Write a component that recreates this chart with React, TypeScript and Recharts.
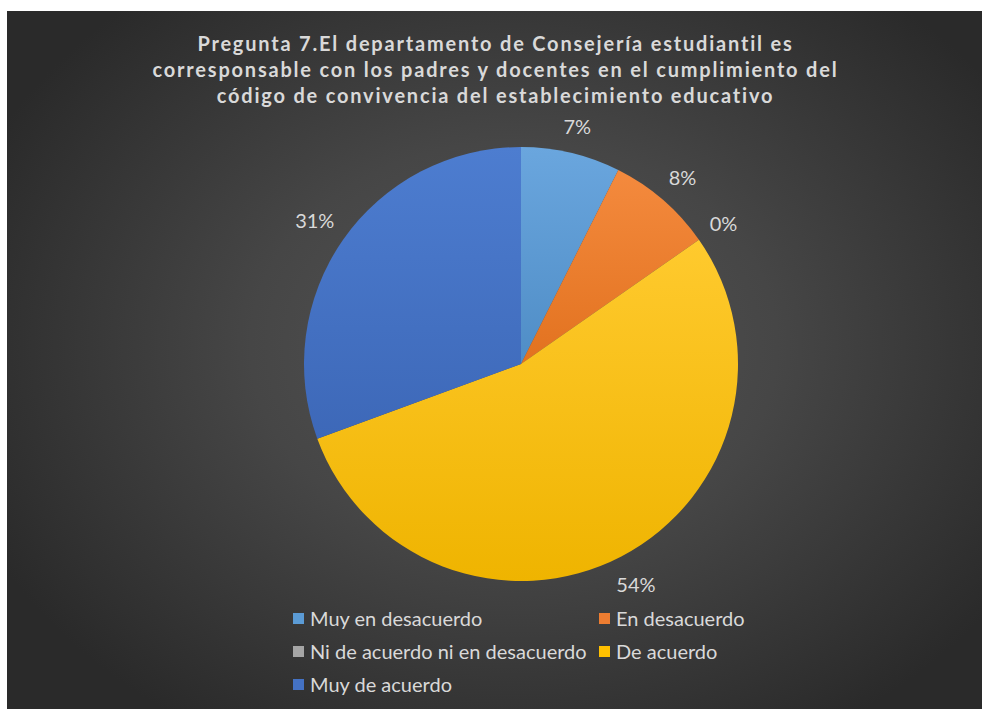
import React from "react";
import { PieChart, Pie, Cell, Legend } from "recharts";

const categories = [
  "Muy en desacuerdo",
  "En desacuerdo",
  "Ni de acuerdo ni en desacuerdo",
  "De acuerdo",
  "Muy de acuerdo",
];
const values = [7.4, 7.9, 0, 54.1, 30.6];
const colors = ["#5B9BD5", "#ED7D31", "#A5A5A5", "#FFC000", "#4472C4"];
const lightColors = ["#6aa6de", "#f48a3e", "#b5b5b5", "#ffca2e", "#4d7dd0"];
const darkColors = ["#4f8dc6", "#e2721f", "#999999", "#efb400", "#3d68b8"];
const titleLines = [
  "Pregunta 7.El departamento de Consejería estudiantil es",
  "corresponsable con los padres y docentes en el cumplimiento del",
  "código de convivencia del establecimiento educativo",
];

const data = categories.map((name, i) => ({ name, value: values[i] }));

const W = 975;
const H = 698;
const FONT = "Lato, 'Open Sans', sans-serif";
const TEXT = "#d9d9d9";
const RAD = Math.PI / 180;

const renderLabel = (props: any) => {
  const { cx, cy, midAngle, outerRadius, percent } = props;
  const txt = `${Math.round(percent * 100)}%`;
  const hw = txt.length * 5.6;
  const hh = 10;
  const c = Math.cos(-midAngle * RAD);
  const s = Math.sin(-midAngle * RAD);
  const r = outerRadius + 15 + hw * Math.abs(c) + hh * Math.abs(s);
  const x = cx + r * c;
  const y = cy + r * s;
  return (
    <text
      x={x}
      y={y}
      fill={TEXT}
      fontSize={20}
      fontFamily={FONT}
      textAnchor="middle"
      dominantBaseline="central"
    >
      {txt}
    </text>
  );
};

const renderLegend = () => (
  <div
    style={{
      display: "grid",
      gridTemplateColumns: "306px 200px",
      rowGap: 11,
      fontFamily: FONT,
      fontSize: 20,
      color: TEXT,
    }}
  >
    {categories.map((c, i) => (
      <div key={c} style={{ display: "flex", alignItems: "center", height: 22 }}>
        <span
          style={{
            width: 11,
            height: 11,
            background: colors[i],
            marginRight: 6,
            display: "inline-block",
          }}
        />
        <span>{c}</span>
      </div>
    ))}
  </div>
);

export default function App() {
  return (
    <div
      style={{
        position: "absolute",
        left: 7,
        top: 11,
        width: W,
        height: H,
        background:
          "radial-gradient(ellipse 60% 65% at 52% 48%, #555555 0%, #464646 45%, #2a2a2a 100%)",
        overflow: "hidden",
      }}
    >
      <div
        style={{
          position: "absolute",
          left: 0,
          top: 19,
          width: W + 2,
          textAlign: "center",
          fontFamily: FONT,
          fontWeight: 700,
          fontSize: 20,
          lineHeight: "26px",
          letterSpacing: 1.8,
          color: TEXT,
        }}
      >
        {titleLines.map((l) => (
          <div key={l}>{l}</div>
        ))}
      </div>
      <PieChart width={W} height={H} style={{ position: "absolute", left: 0, top: 0 }}>
        <defs>
          {colors.map((c, i) => (
            <linearGradient key={c} id={`g${i}`} x1="0" y1="0" x2="0" y2="1">
              <stop offset="0%" stopColor={lightColors[i]} />
              <stop offset="100%" stopColor={darkColors[i]} />
            </linearGradient>
          ))}
        </defs>
        <Pie
          data={data}
          dataKey="value"
          nameKey="name"
          cx={509}
          cy={348}
          outerRadius={217}
          startAngle={90}
          endAngle={-270}
          stroke="none"
          label={renderLabel}
          labelLine={false}
          isAnimationActive={false}
        >
          {data.map((d, i) => (
            <Cell key={d.name} fill={`url(#g${i})`} />
          ))}
        </Pie>
        <Legend
          content={renderLegend}
          wrapperStyle={{ position: "absolute", left: 286, top: 596, width: 520 }}
        />
      </PieChart>
    </div>
  );
}
